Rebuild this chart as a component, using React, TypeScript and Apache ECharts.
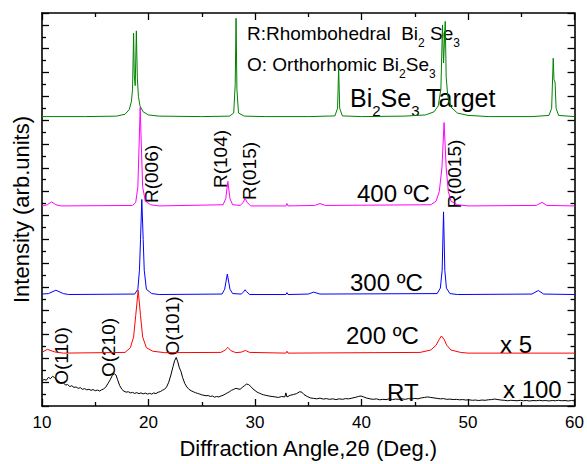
import React, { useEffect, useRef } from "react";
import * as echarts from "echarts";

// 2θ (deg) vs offset intensity (arb. units)
const targetPattern: [number, number][] = [
  [10, 12.15], [14, 12.15], [17, 12.17], [17.8, 12.25], [18.2, 12.45], [18.4, 12.8], [18.5, 13.3],
  [18.6, 15.65], [18.66, 13.9], [18.75, 13.45], [18.86, 15.75], [18.95, 13.8], [19.05, 13.0],
  [19.2, 12.6], [19.5, 12.35], [20, 12.22], [21, 12.17], [25, 12.15], [27.6, 12.17], [28.0, 12.3],
  [28.14, 13.5], [28.22, 16.28], [28.3, 13.3], [28.45, 12.3], [29, 12.17], [31, 12.15], [35, 12.15],
  [37.5, 12.18], [37.75, 12.5], [37.85, 14.2], [37.95, 12.5], [38.2, 12.18], [40, 12.15], [44, 12.17],
  [46, 12.22], [46.8, 12.35], [47.2, 12.6], [47.45, 13.3], [47.6, 16.0], [47.7, 14.4], [47.86, 16.15],
  [47.95, 13.8], [48.1, 13.0], [48.4, 12.55], [49, 12.3], [50, 12.2], [52, 12.15], [56, 12.15],
  [57.6, 12.2], [57.85, 12.5], [58.0, 14.6], [58.07, 13.7], [58.17, 13.6], [58.27, 12.5], [58.5, 12.2],
  [60, 12.15],
];

const pattern400: [number, number][] = [
  [10, 8.4], [10.5, 8.45], [10.9, 8.57], [11.3, 8.45], [11.8, 8.4], [18.5, 8.42], [18.8, 8.55],
  [19.0, 9.2], [19.12, 11.0], [19.22, 12.53], [19.32, 11.0], [19.45, 9.2], [19.7, 8.6], [20.2, 8.45],
  [21, 8.4], [27.0, 8.45], [27.25, 8.7], [27.45, 9.43], [27.65, 8.7], [27.9, 8.45], [28.6, 8.42],
  [28.9, 8.55], [29.07, 8.72], [29.25, 8.55], [29.6, 8.4], [32.9, 8.4], [33.0, 8.5], [33.1, 8.4],
  [35.6, 8.42], [36.1, 8.5], [36.6, 8.42], [46.5, 8.45], [47.0, 8.6], [47.3, 9.0], [47.55, 10.0],
  [47.75, 11.9], [47.95, 10.0], [48.15, 9.0], [48.4, 8.6], [49, 8.45], [50, 8.4], [56.4, 8.42],
  [56.95, 8.55], [57.4, 8.42], [60, 8.4],
];

const pattern300: [number, number][] = [
  [10, 4.7], [10.6, 4.72], [11.3, 4.86], [12, 4.72], [12.5, 4.68], [18.7, 4.7], [19.0, 4.9],
  [19.15, 5.7], [19.25, 7.0], [19.37, 8.67], [19.5, 7.0], [19.6, 5.7], [19.8, 4.9], [20.3, 4.72],
  [21, 4.68], [26.9, 4.7], [27.15, 4.9], [27.4, 5.54], [27.65, 4.9], [27.9, 4.72], [28.7, 4.7],
  [28.95, 4.8], [29.07, 4.88], [29.2, 4.8], [29.5, 4.68], [32.9, 4.68], [33.0, 4.76], [33.1, 4.68],
  [35.0, 4.7], [35.5, 4.78], [36.1, 4.7], [47.1, 4.72], [47.4, 4.95], [47.57, 5.7], [47.7, 8.15],
  [47.82, 5.7], [47.97, 4.95], [48.3, 4.72], [49, 4.68], [56.0, 4.7], [56.6, 4.85], [57.1, 4.7],
  [60, 4.68],
];

const pattern200: [number, number][] = [
  [10, 2.25], [10.5, 2.38], [11.2, 2.27], [12, 2.22], [17.8, 2.25], [18.3, 2.45], [18.6, 2.9],
  [18.8, 3.8], [19.03, 4.86], [19.25, 3.8], [19.45, 2.9], [19.8, 2.45], [20.4, 2.3], [21.5, 2.24],
  [26.8, 2.25], [27.2, 2.35], [27.45, 2.46], [27.75, 2.32], [28.2, 2.24], [28.7, 2.26], [29.1, 2.33],
  [29.5, 2.25], [32.9, 2.22], [33.0, 2.3], [33.1, 2.22], [45.5, 2.25], [46.5, 2.35], [47.0, 2.55],
  [47.3, 2.8], [47.5, 2.94], [47.75, 2.8], [48.0, 2.55], [48.4, 2.35], [49.3, 2.25], [50, 2.22],
  [60, 2.22],
];

const patternRT: [number, number][] = [
  [10.0, 1.05], [10.2, 1.12], [10.4, 1.08], [10.6, 1.2], [10.8, 1.15], [11.0, 1.25], [11.2, 1.18],
  [11.4, 1.1], [11.6, 1.02], [11.8, 0.95], [12.0, 0.98], [12.2, 0.88], [12.4, 0.9], [12.6, 0.82],
  [12.8, 0.85], [13.0, 0.78], [13.2, 0.8], [13.4, 0.74], [13.6, 0.77], [13.8, 0.7], [14.0, 0.73],
  [14.2, 0.68], [14.4, 0.7], [14.6, 0.66], [14.8, 0.69], [15.0, 0.64], [15.2, 0.67], [15.4, 0.63],
  [15.6, 0.68], [15.8, 0.72], [16.0, 0.8], [16.2, 0.95], [16.4, 1.1], [16.6, 1.28], [16.8, 1.35],
  [16.95, 1.3], [17.1, 1.1], [17.3, 0.85], [17.5, 0.7], [17.7, 0.62], [17.9, 0.58], [18.1, 0.6],
  [18.3, 0.55], [18.5, 0.57], [18.7, 0.53], [18.9, 0.56], [19.1, 0.52], [19.3, 0.55], [19.5, 0.51],
  [19.7, 0.54], [19.9, 0.5], [20.1, 0.53], [20.3, 0.5], [20.5, 0.55], [20.7, 0.52], [20.9, 0.58],
  [21.1, 0.6], [21.3, 0.66], [21.5, 0.7], [21.7, 0.8], [21.9, 1.0], [22.1, 1.3], [22.3, 1.65],
  [22.45, 1.9], [22.6, 2.04], [22.75, 1.85], [22.9, 1.6], [23.05, 1.45], [23.2, 1.2], [23.4, 0.95],
  [23.6, 0.8], [23.8, 0.7], [24.0, 0.64], [24.2, 0.6], [24.4, 0.56], [24.6, 0.53], [24.8, 0.5],
  [25.0, 0.47], [25.2, 0.45], [25.4, 0.43], [25.6, 0.44], [25.8, 0.4], [26.0, 0.42], [26.2, 0.37],
  [26.4, 0.4], [26.6, 0.38], [26.8, 0.42], [27.0, 0.45], [27.2, 0.5], [27.4, 0.55], [27.6, 0.6],
  [27.8, 0.66], [28.0, 0.7], [28.2, 0.74], [28.4, 0.72], [28.6, 0.7], [28.8, 0.78], [29.0, 0.85],
  [29.2, 0.92], [29.4, 0.9], [29.6, 0.82], [29.8, 0.72], [30.0, 0.65], [30.2, 0.58], [30.4, 0.54],
  [30.6, 0.5], [30.8, 0.47], [31.0, 0.45], [31.3, 0.42], [31.6, 0.4], [31.9, 0.38], [32.2, 0.36],
  [32.5, 0.4], [32.8, 0.38], [32.9, 0.55], [33.0, 0.38], [33.3, 0.45], [33.6, 0.48], [33.9, 0.52],
  [34.2, 0.6], [34.4, 0.58], [34.6, 0.48], [34.9, 0.4], [35.2, 0.34], [35.5, 0.32], [35.8, 0.3],
  [36.1, 0.33], [36.4, 0.29], [36.7, 0.31], [37.0, 0.28], [37.3, 0.3], [37.6, 0.27], [37.9, 0.3],
  [38.2, 0.28], [38.5, 0.31], [38.8, 0.3], [39.1, 0.33], [39.4, 0.36], [39.7, 0.4], [39.95, 0.42],
  [40.2, 0.38], [40.5, 0.33], [40.8, 0.3], [41.1, 0.28], [41.4, 0.3], [41.7, 0.26], [42.0, 0.28],
  [42.3, 0.27], [42.6, 0.3], [42.9, 0.27], [43.2, 0.29], [43.5, 0.28], [43.8, 0.3], [44.1, 0.28],
  [44.4, 0.31], [44.7, 0.29], [45.0, 0.32], [45.3, 0.3], [45.6, 0.34], [45.9, 0.36], [46.2, 0.38],
  [46.5, 0.36], [46.8, 0.34], [47.1, 0.32], [47.4, 0.3], [47.7, 0.31], [48.0, 0.28], [48.3, 0.29],
  [48.6, 0.27], [48.9, 0.28], [49.2, 0.26], [49.5, 0.27], [49.8, 0.25], [50.1, 0.26], [50.4, 0.24],
  [50.7, 0.25], [51.0, 0.23], [51.3, 0.25], [51.6, 0.24], [51.9, 0.26], [52.2, 0.27], [52.5, 0.29],
  [52.8, 0.27], [53.1, 0.25], [53.4, 0.24], [53.7, 0.22], [54.0, 0.24], [54.3, 0.23], [54.6, 0.22],
  [54.9, 0.24], [55.2, 0.22], [55.5, 0.23], [55.8, 0.21], [56.1, 0.23], [56.4, 0.22], [56.7, 0.24],
  [57.0, 0.22], [57.3, 0.23], [57.6, 0.21], [57.9, 0.23], [58.2, 0.22], [58.5, 0.24], [58.8, 0.22],
  [59.1, 0.23], [59.4, 0.21], [59.7, 0.23], [60.0, 0.22],
];

const FONT = "'Liberation Sans', Arial, Helvetica, sans-serif";

export default function App() {
  const ref = useRef<HTMLDivElement>(null);

  useEffect(() => {
    const chart = echarts.init(ref.current!, null, { renderer: "svg" });

    const line = (name: string, data: [number, number][], color: string) => ({
      type: "line",
      name,
      data,
      symbol: "none",
      showSymbol: false,
      silent: true,
      lineStyle: { color, width: 1 },
      itemStyle: { color },
    });

    const axisLine = { show: true, onZero: false, lineStyle: { color: "#000", width: 1.6 } };
    const axisTick = { show: true, inside: true, length: 7, lineStyle: { color: "#000", width: 1.3 } };
    const minorTick = { show: true, splitNumber: 2, length: 4, lineStyle: { color: "#000", width: 1.3 } };

    const txt = (x: number, y: number, text: string, fontSize: number, extra: any = {}) => ({
      type: "text",
      x,
      y,
      silent: true,
      ...extra,
      style: {
        text,
        fontSize,
        fontFamily: FONT,
        fill: "#000",
        align: "left",
        verticalAlign: "middle",
        ...(extra.style || {}),
      },
    });

    const vlab = (x: number, y: number, text: string) =>
      txt(x, y, text, 19, { rotation: Math.PI / 2, style: { align: "center", verticalAlign: "middle" } });

    const subRich = (main: number, sub: number, mainLH: number, pad: number) => ({
      m: { fontSize: main, fontFamily: FONT, fill: "#000", lineHeight: mainLH, verticalAlign: "top" },
      s: { fontSize: sub, fontFamily: FONT, fill: "#000", lineHeight: sub, verticalAlign: "top", padding: [pad, 0, 0, 0] },
    });

    chart.setOption({
      animation: false,
      backgroundColor: "#fff",
      grid: { left: 42, right: 10, top: 13, bottom: 55 },
      xAxis: [
        {
          type: "value",
          min: 10,
          max: 60,
          interval: 10,
          position: "bottom",
          name: "Diffraction Angle,2θ (Deg.)",
          nameLocation: "middle",
          nameGap: 31,
          nameTextStyle: { fontFamily: FONT, fontSize: 22, color: "#000" },
          axisLine,
          axisTick,
          minorTick,
          axisLabel: { fontFamily: FONT, fontSize: 17, color: "#000", margin: 8 },
          splitLine: { show: false },
        },
        {
          type: "value",
          min: 10,
          max: 60,
          interval: 10,
          position: "top",
          axisLine,
          axisTick,
          minorTick,
          axisLabel: { show: false },
          splitLine: { show: false },
        },
      ],
      yAxis: [
        {
          type: "value",
          min: 0,
          max: 16.5,
          interval: 1,
          position: "left",
          name: "Intensity (arb.units)",
          nameLocation: "middle",
          nameGap: 10,
          nameTextStyle: { fontFamily: FONT, fontSize: 22, color: "#000" },
          axisLine,
          axisTick,
          minorTick,
          axisLabel: { show: false },
          splitLine: { show: false },
        },
        {
          type: "value",
          min: 0,
          max: 16.5,
          interval: 1,
          position: "right",
          axisLine,
          axisTick,
          minorTick,
          axisLabel: { show: false },
          splitLine: { show: false },
        },
      ],
      series: [
        line("RT", patternRT, "#000000"),
        line("200 ºC", pattern200, "#ff0000"),
        line("300 ºC", pattern300, "#0000ff"),
        line("400 ºC", pattern400, "#ff00ff"),
        line("Bi2Se3 Target", targetPattern, "#008000"),
      ],
      graphic: [
        {
          type: "text",
          x: 247,
          y: 23.5,
          silent: true,
          style: {
            text: "{m|R:Rhombohedral  Bi}{s|2}{m| Se}{s|3}",
            verticalAlign: "top",
            align: "left",
            rich: subRich(19, 12, 20, 13),
          },
        },
        {
          type: "text",
          x: 247,
          y: 54.5,
          silent: true,
          style: {
            text: "{m|O: Orthorhomic Bi}{s|2}{m|Se}{s|3}",
            verticalAlign: "top",
            align: "left",
            rich: subRich(19, 12, 20, 13),
          },
        },
        {
          type: "text",
          x: 350,
          y: 85.5,
          silent: true,
          style: {
            text: "{m|Bi}{s|2}{m|Se}{s|3}{m| Target}",
            verticalAlign: "top",
            align: "left",
            rich: subRich(25, 15, 26, 17),
          },
        },
        txt(357, 193, "400 ºC", 24),
        txt(350, 282, "300 ºC", 24),
        txt(346, 335, "200 ºC", 24),
        txt(500, 344, "x 5", 24),
        txt(387, 392, "RT", 24),
        txt(503, 389, "x 100", 24),
        vlab(151, 174, "R(006)"),
        vlab(220, 159, "R(104)"),
        vlab(249, 171, "R(015)"),
        vlab(454, 174, "R(0015)"),
        vlab(61, 356, "O(110)"),
        vlab(108.5, 347.5, "O(210)"),
        vlab(172.5, 326, "O(101)"),
      ],
    });

    return () => chart.dispose();
  }, []);

  return (
    <div
      ref={ref}
      style={{ position: "fixed", left: 0, top: 0, width: 587, height: 464, background: "#fff" }}
    />
  );
}
